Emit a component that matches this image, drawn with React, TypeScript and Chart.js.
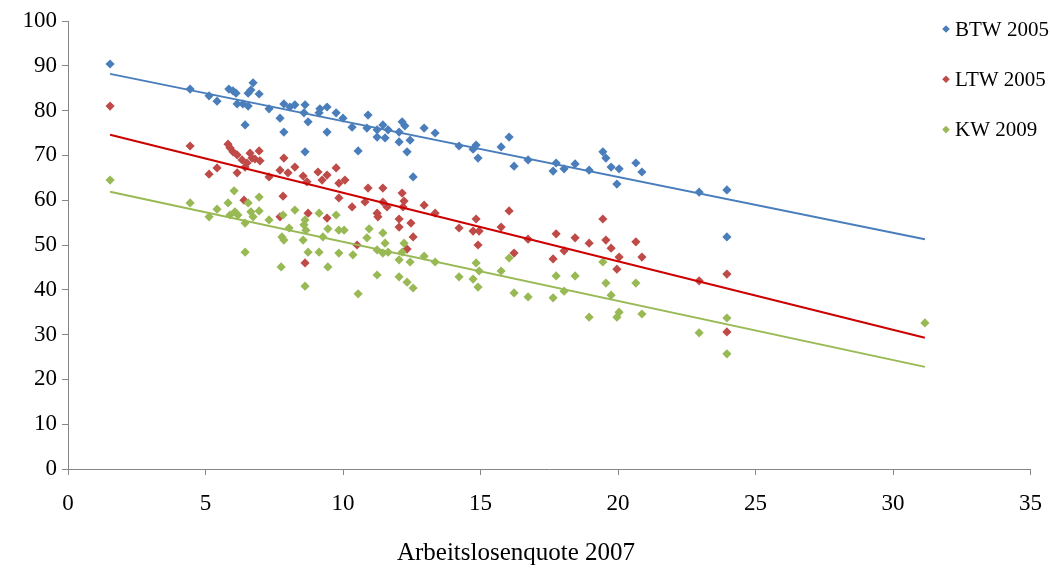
import React, { useEffect, useRef } from 'react';
import { Chart, registerables } from 'chart.js';

Chart.register(...registerables);

const FONT = '"Liberation Serif", "Times New Roman", serif';

const seriesLabels = ['BTW 2005', 'LTW 2005', 'KW 2009'];
const xAxisTitle = 'Arbeitslosenquote 2007';

const btw2005: [number, number][] = [
  [1.53, 90.4], [4.44, 84.8], [5.13, 83.3], [5.42, 82.1], [5.85, 84.8], [6.0, 84.4], [6.11, 83.9],
  [6.73, 86.2], [6.55, 83.9], [6.65, 84.6], [6.95, 83.7], [6.15, 81.5], [6.36, 81.5], [6.55, 81.0],
  [6.44, 76.8], [7.31, 80.4], [7.85, 81.5], [7.71, 78.3], [7.85, 75.2], [8.07, 80.8], [8.25, 81.3],
  [8.62, 81.3], [8.58, 79.5], [8.73, 77.5], [9.16, 80.4], [9.13, 79.5], [9.42, 80.8], [9.42, 75.2],
  [9.75, 79.5], [10.0, 78.3], [10.33, 76.3], [10.87, 76.1], [10.91, 79.0], [11.24, 74.1], [8.62, 70.8],
  [10.55, 71.0], [11.24, 75.7], [11.45, 76.8], [11.53, 73.9], [11.64, 75.7], [12.15, 77.5], [12.25, 76.6],
  [12.04, 75.2], [12.04, 73.0], [12.44, 73.4], [12.33, 70.8], [12.95, 76.1], [13.35, 75.0], [14.22, 72.1],
  [14.84, 72.3], [14.73, 71.4], [14.91, 69.4], [15.75, 71.9], [16.04, 74.1], [16.22, 67.6], [16.73, 69.0],
  [17.75, 68.3], [17.64, 66.5], [12.55, 65.2], [18.04, 67.0], [18.44, 68.1], [18.95, 66.7], [19.45, 70.8],
  [19.56, 69.4], [19.75, 67.4], [20.04, 67.0], [19.96, 63.6], [20.65, 68.3], [20.87, 66.3], [22.95, 61.8],
  [23.96, 62.3], [23.96, 51.8],
];

const ltw2005: [number, number][] = [
  [1.53, 81.0], [4.44, 72.1], [5.82, 72.5], [5.89, 71.7], [6.0, 70.8], [6.15, 70.1], [6.33, 69.0],
  [6.51, 68.3], [6.62, 70.5], [6.69, 69.4], [6.8, 69.2], [6.95, 71.0], [6.98, 68.8], [6.44, 67.4],
  [5.42, 67.2], [5.13, 65.8], [6.15, 66.1], [7.31, 65.2], [7.85, 69.4], [7.71, 66.7], [8.0, 66.1],
  [8.25, 67.4], [8.55, 65.4], [8.69, 64.1], [9.09, 66.3], [9.24, 64.5], [9.42, 65.6], [9.75, 67.2],
  [9.85, 63.8], [10.07, 64.5], [10.91, 62.7], [7.82, 60.9], [9.85, 60.5], [10.33, 58.5], [10.8, 59.6],
  [11.24, 57.1], [6.4, 60.0], [8.73, 57.1], [7.71, 56.3], [9.42, 56.0], [10.51, 50.0], [8.62, 46.0],
  [11.45, 62.7], [11.45, 59.6], [11.6, 58.5], [12.15, 61.6], [12.22, 59.8], [12.18, 58.5], [11.27, 56.3],
  [12.04, 55.8], [12.04, 54.0], [12.47, 54.9], [12.55, 51.8], [12.33, 49.1], [12.95, 58.9], [13.35, 57.1],
  [14.22, 53.8], [14.84, 55.8], [14.73, 53.1], [14.95, 53.1], [14.91, 50.0], [15.75, 54.0], [16.04, 57.6],
  [16.22, 48.2], [16.73, 51.3], [17.64, 46.9], [17.75, 52.5], [18.04, 48.7], [18.44, 51.6], [18.95, 50.4],
  [19.45, 55.8], [19.56, 51.1], [19.75, 49.3], [20.04, 47.3], [19.96, 44.6], [20.65, 50.7], [20.87, 47.3],
  [22.95, 42.0], [23.96, 43.5], [23.96, 30.6],
];

const kw2009: [number, number][] = [
  [1.53, 64.5], [4.44, 59.4], [5.13, 56.3], [5.42, 58.0], [5.82, 59.4], [6.04, 62.1], [5.89, 56.7],
  [6.07, 57.4], [6.18, 56.7], [6.44, 54.9], [6.55, 59.4], [6.65, 57.4], [6.73, 56.3], [6.95, 60.7],
  [6.95, 57.6], [7.31, 55.6], [7.82, 56.7], [8.25, 57.8], [7.78, 51.8], [7.85, 51.1], [8.04, 53.8],
  [8.55, 51.1], [8.62, 55.6], [8.58, 54.5], [8.65, 53.3], [9.13, 57.1], [9.27, 51.8], [9.45, 53.6],
  [9.75, 56.7], [9.85, 53.3], [10.04, 53.3], [10.95, 53.6], [10.87, 51.6], [11.24, 48.9], [10.36, 47.8],
  [9.85, 48.2], [9.13, 48.4], [8.73, 48.4], [6.44, 48.4], [7.75, 45.1], [9.45, 45.1], [8.62, 40.8],
  [10.55, 39.1], [11.24, 43.3], [11.45, 52.7], [11.53, 50.4], [11.45, 48.2], [11.64, 48.4], [12.15, 48.4],
  [12.22, 50.4], [12.04, 46.7], [12.44, 46.2], [12.95, 47.5], [13.35, 46.2], [12.04, 42.9], [12.33, 41.7],
  [12.55, 40.4], [14.22, 42.9], [14.84, 46.0], [14.73, 42.4], [14.95, 44.2], [14.91, 40.6], [15.75, 44.2],
  [16.04, 47.1], [16.22, 39.3], [16.73, 38.4], [17.64, 38.2], [17.75, 43.1], [18.04, 39.7], [18.44, 43.1],
  [18.95, 33.9], [19.45, 46.2], [19.56, 41.5], [19.75, 38.8], [20.04, 35.0], [19.96, 33.9], [20.65, 41.5],
  [20.87, 34.6], [22.95, 30.4], [23.96, 33.7], [23.96, 25.7], [31.16, 32.6],
];

// Linear trend lines: x range and end values
const trendX = [1.53, 31.16];
const btwTrend = [88.2, 51.3];
const ltwTrend = [74.6, 29.3];
const kwTrend = [61.9, 22.8];

const markerColors = ['#4A7EBB', '#BE4B48', '#98B954'];
const trendColors = ['#4A7EBB', '#CC0000', '#98B954'];

const toPts = (arr: [number, number][]) => arr.map(([x, y]) => ({ x, y }));
const toLine = (ys: number[]) => trendX.map((x, i) => ({ x, y: ys[i] }));

const sideLegend = {
  id: 'sideLegend',
  afterDraw(chart: any) {
    const ctx = chart.ctx as CanvasRenderingContext2D;
    ctx.save();
    // legend
    ctx.font = `21px ${FONT}`;
    ctx.textBaseline = 'middle';
    ctx.textAlign = 'left';
    const x0 = 946;
    const y0 = 29;
    const step = 50.3;
    seriesLabels.forEach((lab, i) => {
      const y = y0 + i * step;
      const r = 3.8;
      ctx.fillStyle = markerColors[i];
      ctx.beginPath();
      ctx.moveTo(x0, y - r);
      ctx.lineTo(x0 + r, y);
      ctx.lineTo(x0, y + r);
      ctx.lineTo(x0 - r, y);
      ctx.closePath();
      ctx.fill();
      ctx.fillStyle = '#000';
      ctx.fillText(lab, x0 + 9, y + 1);
    });
    // x-axis title (offset left of the plot centre, as in the original)
    ctx.font = `25px ${FONT}`;
    ctx.textAlign = 'center';
    ctx.fillStyle = '#000';
    ctx.fillText(xAxisTitle, 516, 553);
    ctx.restore();
  },
};

export default function App() {
  const ref = useRef<HTMLCanvasElement>(null);
  useEffect(() => {
    if (!ref.current) return;
    const axisColor = '#868686';
    const tickFont = { family: FONT, size: 23 };
    const scatterDs = (label: string, data: [number, number][], i: number, order: number) => ({
      label,
      data: toPts(data),
      pointStyle: 'rectRot',
      pointRadius: 4.6,
      pointHoverRadius: 4.6,
      backgroundColor: markerColors[i],
      borderColor: markerColors[i],
      borderWidth: 0,
      showLine: false,
      order,
    });
    const trendDs = (ys: number[], i: number) => ({
      label: seriesLabels[i] + ' trend',
      data: toLine(ys),
      showLine: true,
      pointRadius: 0,
      borderColor: trendColors[i],
      borderWidth: i === 1 ? 2.2 : 2,
      fill: false,
      order: 0,
    });
    const chart = new Chart(ref.current, {
      type: 'scatter',
      data: {
        datasets: [
          scatterDs(seriesLabels[0], btw2005, 0, 3),
          scatterDs(seriesLabels[1], ltw2005, 1, 2),
          scatterDs(seriesLabels[2], kw2009, 2, 1),
          trendDs(btwTrend, 0),
          trendDs(ltwTrend, 1),
          trendDs(kwTrend, 2),
        ] as any,
      },
      options: {
        animation: false,
        responsive: true,
        maintainAspectRatio: false,
        layout: { padding: { top: 21, right: 19.5, left: 0, bottom: 0 } },
        plugins: {
          legend: { display: false },
          tooltip: { enabled: false },
        },
        scales: {
          x: {
            type: 'linear',
            min: 0,
            max: 35,
            ticks: { stepSize: 5, color: '#000', font: tickFont, padding: 15 },
            grid: { display: true, drawOnChartArea: false, drawTicks: true, tickLength: 6, color: axisColor },
            border: { display: true, color: axisColor, width: 1 },
            title: { display: false },
            afterFit(s: any) {
              s.height = 100;
              s.paddingRight = 0;
              s.paddingLeft = 0;
            },
          },
          y: {
            type: 'linear',
            min: 0,
            max: 100,
            ticks: { stepSize: 10, color: '#000', font: tickFont, padding: 5 },
            grid: { display: true, drawOnChartArea: false, drawTicks: true, tickLength: 6, color: axisColor },
            border: { display: true, color: axisColor, width: 1 },
            afterFit(s: any) {
              s.width = 68;
            },
          },
        },
      } as any,
      plugins: [sideLegend],
    });
    return () => chart.destroy();
  }, []);
  return (
    <div style={{ position: 'fixed', left: 0, top: 0, width: 1050, height: 569, background: '#fff' }}>
      <canvas ref={ref} />
    </div>
  );
}
